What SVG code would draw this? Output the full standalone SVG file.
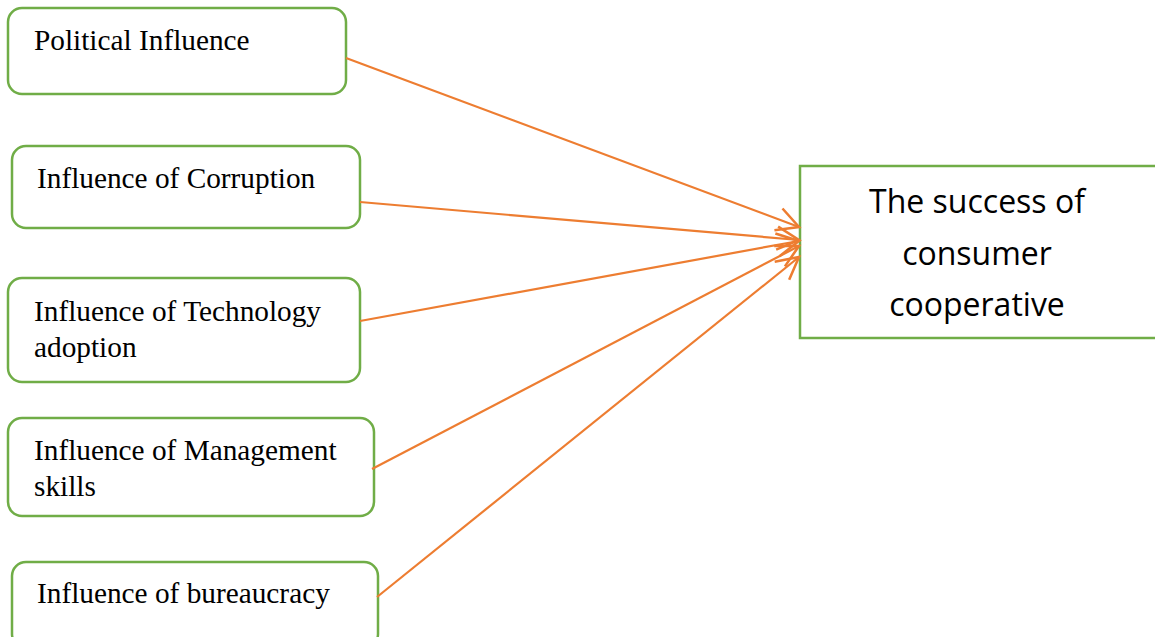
<svg xmlns="http://www.w3.org/2000/svg" width="1155" height="637" viewBox="0 0 1155 637">
<style>
.box{fill:#fff;stroke:#70AD47;stroke-width:2.5}
.lbl{font-family:"Liberation Serif","Times New Roman",serif;font-size:29.3px;fill:#000}
.big{font-family:"Open Sans","Liberation Sans",sans-serif;font-size:32px;fill:#000;text-anchor:middle}
.con{stroke:#ED7D31;stroke-width:2.2;fill:none}
</style>
<defs>
<marker id="arr" markerUnits="userSpaceOnUse" markerWidth="30" markerHeight="30" viewBox="-22 -12 26 24" refX="0" refY="0" orient="auto">
<path d="M-19,-10 L0,0 L-19,10" fill="none" stroke="#ED7D31" stroke-width="2.2"/>
</marker>
</defs>
<rect width="1155" height="637" fill="#fff"/>
<g id="n1"><rect class="box" x="8" y="8" width="338" height="86" rx="14"/><text class="lbl" x="34" y="50">Political Influence</text></g>
<g id="n2"><rect class="box" x="12" y="146" width="348" height="82" rx="14"/><text class="lbl" x="37" y="188">Influence of Corruption</text></g>
<g id="n3"><rect class="box" x="8" y="278" width="352" height="104" rx="14"/><text class="lbl" x="34" y="321">Influence of Technology</text><text class="lbl" x="34" y="357">adoption</text></g>
<g id="n4"><rect class="box" x="8" y="418" width="366" height="98" rx="14"/><text class="lbl" x="34" y="460">Influence of Management</text><text class="lbl" x="34" y="496">skills</text></g>
<g id="n5"><rect class="box" x="12" y="562" width="366" height="86" rx="14"/><text class="lbl" x="37" y="603">Influence of bureaucracy</text></g>
<g id="target"><rect x="800" y="166" width="360" height="172" fill="#fff" stroke="#70AD47" stroke-width="2.5"/><text class="big" x="977" y="213">The success of</text><text class="big" x="977" y="265">consumer</text><text class="big" x="977" y="316">cooperative</text></g>
<g id="connectors">
<line class="con" x1="346" y1="58" x2="799" y2="227" marker-end="url(#arr)"/>
<line class="con" x1="360" y1="202" x2="799" y2="240" marker-end="url(#arr)"/>
<line class="con" x1="360" y1="321" x2="799" y2="241" marker-end="url(#arr)"/>
<line class="con" x1="372" y1="469" x2="799" y2="246" marker-end="url(#arr)"/>
<line class="con" x1="377" y1="597" x2="799" y2="257" marker-end="url(#arr)"/>
</g>
</svg>
